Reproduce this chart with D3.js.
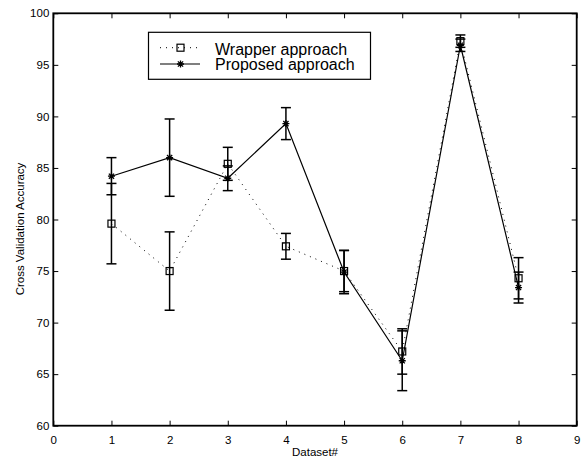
<!DOCTYPE html>
<html>
<head>
<meta charset="utf-8">
<script src="https://cdn.jsdelivr.net/npm/d3@7"></script>
<style>
  body { margin: 0; background: #fff; }
  svg { display: block; font-family: "Liberation Sans", Arial, Helvetica, sans-serif; }
  .tick text { font-size: 11.5px; fill: #000; }
</style>
</head>
<body>
<div id="chart"></div>
<script>
// data
var datasets = [1, 2, 3, 4, 5, 6, 7, 8];
var wrapperAcc = [79.6, 75.0, 85.4, 77.4, 75.0, 67.2, 97.3, 74.3];
var wrapperErr = [3.9, 3.8, 1.6, 1.25, 2.0, 2.2, 0.6, 2.0];
var proposedAcc = [84.2, 86.0, 84.0, 89.3, 74.9, 66.3, 96.9, 73.4];
var proposedErr = [1.8, 3.75, 1.2, 1.55, 2.1, 2.9, 0.6, 1.5];
var xTicks = [0, 1, 2, 3, 4, 5, 6, 7, 8, 9];
var yTicks = [60, 65, 70, 75, 80, 85, 90, 95, 100];
var seriesNames = ["Wrapper approach", "Proposed approach"];

var width = 586, height = 460;
var plot = {left: 53.3, right: 576.7, top: 13.3, bottom: 425.7};

var svg = d3.select("#chart").append("svg")
    .attr("width", width)
    .attr("height", height);

var x = d3.scaleLinear().domain([0, 9]).range([plot.left, plot.right]);
var y = d3.scaleLinear().domain([60, 100]).range([plot.bottom, plot.top]);

// axes, MATLAB style: ticks pointing inside on all four sides
var tickLen = 5;
svg.append("g")
    .attr("transform", "translate(0," + plot.bottom + ")")
    .call(d3.axisBottom(x).tickValues(xTicks).tickFormat(d3.format("d")).tickSizeInner(-tickLen).tickSizeOuter(0).tickPadding(10));
svg.append("g")
    .attr("transform", "translate(0," + plot.top + ")")
    .call(d3.axisTop(x).tickValues(xTicks).tickFormat("").tickSizeInner(-tickLen).tickSizeOuter(0));
svg.append("g")
    .attr("transform", "translate(" + plot.left + ",0)")
    .call(d3.axisLeft(y).tickValues(yTicks).tickFormat(d3.format("d")).tickSizeInner(-tickLen).tickSizeOuter(0).tickPadding(4));
svg.append("g")
    .attr("transform", "translate(" + plot.right + ",0)")
    .call(d3.axisRight(y).tickValues(yTicks).tickFormat("").tickSizeInner(-tickLen).tickSizeOuter(0));

svg.selectAll(".domain").remove();
svg.selectAll(".tick line").attr("stroke", "#000").attr("stroke-width", 1);

// box
svg.append("rect")
    .attr("x", plot.left).attr("y", plot.top)
    .attr("width", plot.right - plot.left).attr("height", plot.bottom - plot.top)
    .attr("fill", "none").attr("stroke", "#000").attr("stroke-width", 1.8);

// axis labels
svg.append("text")
    .attr("x", (plot.left + plot.right) / 2)
    .attr("y", 456)
    .attr("text-anchor", "middle")
    .attr("font-size", "11.5px")
    .text("Dataset#");

svg.append("text")
    .attr("transform", "translate(24,229) rotate(-90)")
    .attr("text-anchor", "middle")
    .attr("font-size", "11.5px")
    .text("Cross Validation Accuracy");

var line = d3.line()
    .x(function (d) { return x(d.x); })
    .y(function (d) { return y(d.v); });

function toPoints(vals, errs) {
    return datasets.map(function (d, i) {
        return {x: d, v: vals[i], e: errs[i]};
    });
}

var wrapper = toPoints(wrapperAcc, wrapperErr);
var proposed = toPoints(proposedAcc, proposedErr);

// error bars
function drawErrors(pts) {
    var g = svg.append("g").attr("stroke", "#000").attr("stroke-width", 1.5);
    var cap = 5;
    pts.forEach(function (d) {
        var cx = x(d.x);
        g.append("line").attr("x1", cx).attr("x2", cx)
            .attr("y1", y(d.v + d.e)).attr("y2", y(d.v - d.e));
        g.append("line").attr("x1", cx - cap).attr("x2", cx + cap)
            .attr("y1", y(d.v + d.e)).attr("y2", y(d.v + d.e));
        g.append("line").attr("x1", cx - cap).attr("x2", cx + cap)
            .attr("y1", y(d.v - d.e)).attr("y2", y(d.v - d.e));
    });
}
drawErrors(wrapper);
drawErrors(proposed);

// lines
svg.append("path")
    .datum(wrapper)
    .attr("d", line)
    .attr("fill", "none")
    .attr("stroke", "#000")
    .attr("stroke-width", 1)
    .attr("stroke-dasharray", "1,5");

svg.append("path")
    .datum(proposed)
    .attr("d", line)
    .attr("fill", "none")
    .attr("stroke", "#000")
    .attr("stroke-width", 1.2);

// markers
function square(g, cx, cy) {
    g.append("rect")
        .attr("x", cx - 3.5).attr("y", cy - 3.5)
        .attr("width", 7).attr("height", 7)
        .attr("fill", "none").attr("stroke", "#000").attr("stroke-width", 1.2);
}
function star(g, cx, cy) {
    var r = 3.5, s = 2.6;
    var p = "M" + (cx - r) + "," + cy + "H" + (cx + r) +
        "M" + cx + "," + (cy - r) + "V" + (cy + r) +
        "M" + (cx - s) + "," + (cy - s) + "L" + (cx + s) + "," + (cy + s) +
        "M" + (cx - s) + "," + (cy + s) + "L" + (cx + s) + "," + (cy - s);
    g.append("path").attr("d", p).attr("stroke", "#000").attr("stroke-width", 1.3).attr("fill", "none");
}

var mk = svg.append("g");
wrapper.forEach(function (d) { square(mk, x(d.x), y(d.v)); });
proposed.forEach(function (d) { star(mk, x(d.x), y(d.v)); });

// legend
var legend = svg.append("g");
legend.append("rect")
    .attr("x", 148.5).attr("y", 32.3)
    .attr("width", 222).attr("height", 47)
    .attr("fill", "#fff").attr("stroke", "#000").attr("stroke-width", 1.2);

var rows = [47.7, 64];
legend.append("line")
    .attr("x1", 160).attr("x2", 200).attr("y1", rows[0]).attr("y2", rows[0])
    .attr("stroke", "#000").attr("stroke-width", 1).attr("stroke-dasharray", "1,5");
square(legend, 180.5, rows[0]);
legend.append("line")
    .attr("x1", 160).attr("x2", 200).attr("y1", rows[1]).attr("y2", rows[1])
    .attr("stroke", "#000").attr("stroke-width", 1.2);
star(legend, 180.5, rows[1]);

legend.selectAll("text.name")
    .data(seriesNames)
    .enter()
    .append("text")
    .attr("class", "name")
    .attr("x", 215)
    .attr("y", function (d, i) { return [54.8, 70][i]; })
    .attr("font-size", "16px")
    .text(function (d) { return d; });
</script>
</body>
</html>
